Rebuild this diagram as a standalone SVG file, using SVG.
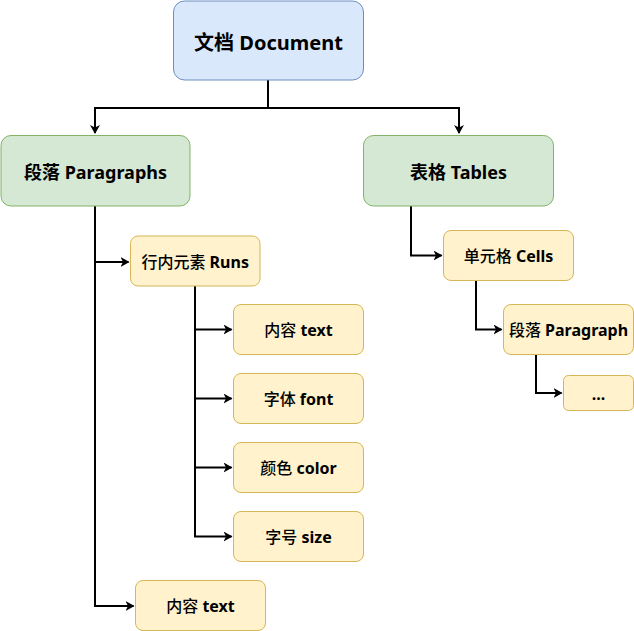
<svg xmlns="http://www.w3.org/2000/svg" width="634" height="631" viewBox="0 0 634 631">
<style>
text{font-family:"Noto Sans","Noto Sans CJK SC",sans-serif;fill:#000;text-anchor:middle;dominant-baseline:central}
.t1{font-size:20px;font-weight:bold}
.t2{font-size:18px;font-weight:bold}
.t3{font-size:16px;font-weight:bold}
.cj{font-weight:500}
.blue{fill:#dae8fc;stroke:#6c8ebf;stroke-width:1}
.green{fill:#d5e8d4;stroke:#82b366;stroke-width:1}
.yellow{fill:#fff2cc;stroke:#d6b656;stroke-width:1}
.edge{fill:none;stroke:#000;stroke-width:2;marker-end:url(#arr)}
</style>
<defs>
<marker id="arr" markerWidth="10" markerHeight="10" refX="8" refY="5" orient="auto" markerUnits="userSpaceOnUse">
<path d="M0,0 L9,5 L0,10 L2.5,5 Z" fill="#000"/>
</marker>
</defs>
<g id="connectors">
<path class="edge" d="M268,80 V108 H95 V133"/>
<path class="edge" d="M268,80 V108 H459 V133"/>
<path class="edge" d="M95,206 V262 H128.5"/>
<path class="edge" d="M95,206 V606 H133.5"/>
<path class="edge" d="M195,286 V329.5 H231.5"/>
<path class="edge" d="M195,286 V398.5 H231.5"/>
<path class="edge" d="M195,286 V467.5 H231.5"/>
<path class="edge" d="M195,286 V536.5 H231.5"/>
<path class="edge" d="M411,206 V255.5 H441.5"/>
<path class="edge" d="M476,280.5 V329.5 H501.5"/>
<path class="edge" d="M536,354.5 V393 H561.5"/>
</g>
<g id="document"><rect class="blue" x="173.5" y="1" width="190" height="79" rx="11"/><text class="t1" x="268.5" y="42">文档 Document</text></g>
<g id="paragraphs"><rect class="green" x="1" y="135.5" width="189" height="70.5" rx="10"/><text class="t2" x="95.5" y="172">段落 Paragraphs</text></g>
<g id="tables"><rect class="green" x="363.5" y="135.5" width="190" height="70.5" rx="10"/><text class="t2" x="458.5" y="172">表格 Tables</text></g>
<g id="runs"><rect class="yellow" x="130.5" y="236" width="129.5" height="50" rx="7.5"/><text class="t3" x="195.2" y="262"><tspan class="cj">行内元素</tspan> Runs</text></g>
<g id="run-text"><rect class="yellow" x="233.5" y="304.5" width="130" height="50" rx="7.5"/><text class="t3" x="298.5" y="330"><tspan class="cj">内容</tspan> text</text></g>
<g id="run-font"><rect class="yellow" x="233.5" y="373.5" width="130" height="50" rx="7.5"/><text class="t3" x="298.5" y="399"><tspan class="cj">字体</tspan> font</text></g>
<g id="run-color"><rect class="yellow" x="233.5" y="442.5" width="130" height="50" rx="7.5"/><text class="t3" x="298.5" y="468"><tspan class="cj">颜色</tspan> color</text></g>
<g id="run-size"><rect class="yellow" x="233.5" y="511.5" width="130" height="50" rx="7.5"/><text class="t3" x="298.5" y="537"><tspan class="cj">字号</tspan> size</text></g>
<g id="para-text"><rect class="yellow" x="135.5" y="580.5" width="130" height="50" rx="7.5"/><text class="t3" x="200.5" y="606"><tspan class="cj">内容</tspan> text</text></g>
<g id="cells"><rect class="yellow" x="443.5" y="230.5" width="130" height="50" rx="7.5"/><text class="t3" x="508.5" y="256"><tspan class="cj">单元格</tspan> Cells</text></g>
<g id="cell-paragraph"><rect class="yellow" x="503.5" y="304.5" width="130" height="50" rx="7.5"/><text class="t3" x="568.5" y="330"><tspan class="cj">段落</tspan> Paragraph</text></g>
<g id="more"><rect class="yellow" x="563.5" y="375.5" width="70" height="35" rx="5"/><text class="t3" x="598.5" y="394">...</text></g>
</svg>
